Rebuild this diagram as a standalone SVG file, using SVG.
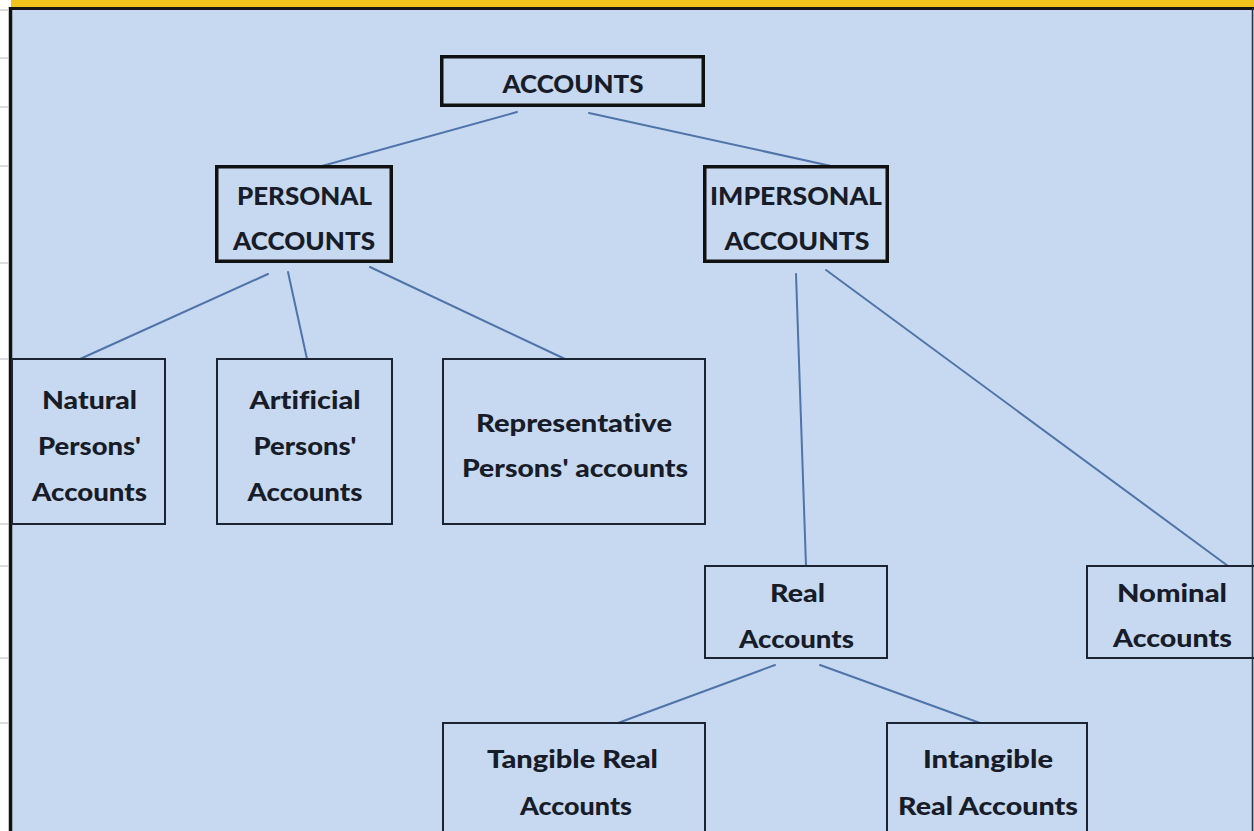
<svg xmlns="http://www.w3.org/2000/svg" width="1254" height="831" viewBox="0 0 1254 831">
  <style>
    .bg { fill: #c6d9f0; }
    .thick { fill: none; stroke: #111111; stroke-width: 3.5; }
    .thin { fill: none; stroke: #1c2433; stroke-width: 2; }
    .conn { stroke: #4f74aa; stroke-width: 2; fill: none; stroke-linecap: round; }
    .lbl { font-family: Lato, "Liberation Sans", sans-serif; font-weight: 900; font-size: 25px; fill: #181c28; text-anchor: middle; font-variant-ligatures: none; }
    .tick { stroke: #b8b8b8; stroke-width: 1; }
  </style>
  <rect x="0" y="0" width="1254" height="831" fill="#ffffff"/>
  <rect class="bg" x="10" y="8" width="1244" height="823"/>
  <rect x="11" y="0" width="1243" height="7" fill="#f0c21c"/>
  <line x1="10" y1="8.5" x2="1254" y2="8.5" stroke="#151515" stroke-width="3"/>
  <line x1="10.5" y1="7" x2="10.5" y2="831" stroke="#111111" stroke-width="3.5"/>
  <line x1="1252.5" y1="8" x2="1252.5" y2="831" stroke="#2a3240" stroke-width="1.5"/>
  <g id="gridticks">
    <line class="tick" x1="0" y1="10" x2="8" y2="10"/>
    <line class="tick" x1="0" y1="58" x2="8" y2="58"/>
    <line class="tick" x1="0" y1="107" x2="8" y2="107"/>
    <line class="tick" x1="0" y1="166" x2="8" y2="166"/>
    <line class="tick" x1="0" y1="263" x2="8" y2="263"/>
    <line class="tick" x1="0" y1="359" x2="8" y2="359"/>
    <line class="tick" x1="0" y1="524" x2="8" y2="524"/>
    <line class="tick" x1="0" y1="566" x2="8" y2="566"/>
    <line class="tick" x1="0" y1="658" x2="8" y2="658"/>
    <line class="tick" x1="0" y1="723" x2="8" y2="723"/>
  </g>

  <g id="connectors">
    <line class="conn" x1="517" y1="112" x2="322" y2="166"/>
    <line class="conn" x1="589" y1="113" x2="831" y2="166"/>
    <line class="conn" x1="268" y1="274" x2="80" y2="359"/>
    <line class="conn" x1="288" y1="272" x2="307" y2="359"/>
    <line class="conn" x1="370" y1="267" x2="565" y2="359"/>
    <line class="conn" x1="796" y1="274" x2="806" y2="566"/>
    <line class="conn" x1="826" y1="270" x2="1228" y2="566"/>
    <line class="conn" x1="775" y1="665" x2="618" y2="723"/>
    <line class="conn" x1="820" y1="665" x2="980" y2="723"/>
  </g>

  <g id="accounts">
    <rect class="thick" x="441.75" y="56.75" width="261.5" height="48.5"/>
    <text class="lbl" x="573" y="93" textLength="141" lengthAdjust="spacingAndGlyphs">ACCOUNTS</text>
  </g>
  <g id="personal">
    <rect class="thick" x="216.75" y="166.75" width="174.5" height="94.5"/>
    <text class="lbl" x="304.5" y="205" textLength="135" lengthAdjust="spacingAndGlyphs">PERSONAL</text>
    <text class="lbl" x="304" y="250" textLength="142" lengthAdjust="spacingAndGlyphs">ACCOUNTS</text>
  </g>
  <g id="impersonal">
    <rect class="thick" x="704.75" y="166.75" width="182.5" height="94.5"/>
    <text class="lbl" x="796" y="205" textLength="172" lengthAdjust="spacingAndGlyphs">IMPERSONAL</text>
    <text class="lbl" x="797" y="250" textLength="145" lengthAdjust="spacingAndGlyphs">ACCOUNTS</text>
  </g>
  <g id="natural">
    <rect class="thin" x="12" y="359" width="153" height="165"/>
    <text class="lbl" x="89.5" y="409" textLength="95" lengthAdjust="spacingAndGlyphs">Natural</text>
    <text class="lbl" x="89.5" y="455" textLength="103" lengthAdjust="spacingAndGlyphs">Persons'</text>
    <text class="lbl" x="89.5" y="501" textLength="115" lengthAdjust="spacingAndGlyphs">Accounts</text>
  </g>
  <g id="artificial">
    <rect class="thin" x="217" y="359" width="175" height="165"/>
    <text class="lbl" x="305" y="409" textLength="111" lengthAdjust="spacingAndGlyphs">Artificial</text>
    <text class="lbl" x="305" y="455" textLength="103" lengthAdjust="spacingAndGlyphs">Persons'</text>
    <text class="lbl" x="305" y="501" textLength="115" lengthAdjust="spacingAndGlyphs">Accounts</text>
  </g>
  <g id="representative">
    <rect class="thin" x="443" y="359" width="262" height="165"/>
    <text class="lbl" x="574" y="432" textLength="196" lengthAdjust="spacingAndGlyphs">Representative</text>
    <text class="lbl" x="575" y="477" textLength="226" lengthAdjust="spacingAndGlyphs">Persons' accounts</text>
  </g>
  <g id="real">
    <rect class="thin" x="705" y="566" width="182" height="92"/>
    <text class="lbl" x="797.5" y="602" textLength="55" lengthAdjust="spacingAndGlyphs">Real</text>
    <text class="lbl" x="796.5" y="648" textLength="115" lengthAdjust="spacingAndGlyphs">Accounts</text>
  </g>
  <g id="nominal">
    <rect class="thin" x="1087" y="566" width="170" height="92"/>
    <text class="lbl" x="1172" y="602" textLength="110" lengthAdjust="spacingAndGlyphs">Nominal</text>
    <text class="lbl" x="1172.5" y="647" textLength="119" lengthAdjust="spacingAndGlyphs">Accounts</text>
  </g>
  <g id="tangible">
    <rect class="thin" x="443" y="723" width="262" height="120"/>
    <text class="lbl" x="572.5" y="768" textLength="171" lengthAdjust="spacingAndGlyphs">Tangible Real</text>
    <text class="lbl" x="576" y="815" textLength="112" lengthAdjust="spacingAndGlyphs">Accounts</text>
  </g>
  <g id="intangible">
    <rect class="thin" x="887" y="723" width="200" height="120"/>
    <text class="lbl" x="988" y="768" textLength="130" lengthAdjust="spacingAndGlyphs">Intangible</text>
    <text class="lbl" x="988" y="815" textLength="180" lengthAdjust="spacingAndGlyphs">Real Accounts</text>
  </g>
</svg>
